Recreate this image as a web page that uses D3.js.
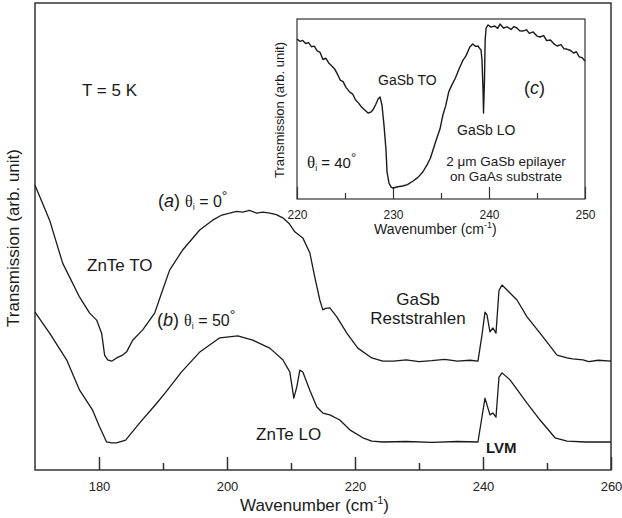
<!DOCTYPE html>
<html>
<head>
<meta charset="utf-8">
<script src="https://cdn.jsdelivr.net/npm/d3@7"></script>
<style>
  body { margin: 0; background: #fff; }
  svg { font-family: "Liberation Sans", Arial, sans-serif; }
  .tick text { fill: #222; }
</style>
</head>
<body>
<svg width="622" height="518"></svg>
<script>
// spectrum (a): theta_i = 0
const waveA = [170, 172.28, 174.32, 176.97, 178.54, 179.63, 180.41, 180.88, 181.35, 181.98, 182.76, 183.7, 184.32, 185.26, 186.83, 188.7, 189.78, 191.03, 193.07, 195.73, 197.76, 199.2, 200.42, 201.5, 202.46, 203.5, 204.65, 205.6, 206.68, 207.7, 208.72, 209.7, 210.59, 211.84, 212.94, 213.72, 214.5, 214.97, 215.4, 216.07, 217.16, 218.72, 220.44, 222.63, 224.35, 226, 228, 230, 232, 234, 236, 238, 239.21, 239.84, 240.31, 240.62, 241.09, 241.56, 242.03, 242.5, 242.97, 244.22, 245.31, 246.88, 248.91, 250, 251.56, 253.13, 254, 255.63, 256.5, 258, 260];
const transA = [61, 53.5, 44.3, 37, 33.6, 32.1, 29.3, 24.6, 23.6, 23.3, 24, 24.6, 25.3, 27.8, 30, 33.6, 37.9, 42.8, 47.1, 51.4, 53.5, 54.6, 55, 55.4, 55.2, 55.6, 55, 55.2, 55, 54.7, 54, 52.8, 51, 49.7, 46.5, 41.3, 36.4, 34.3, 34.6, 34.7, 32.8, 29.3, 26.1, 24, 23.3, 23.3, 23.6, 23.2, 23.4, 23.7, 23.3, 23.5, 23.3, 28.9, 33.8, 33.2, 29.6, 30.4, 29.3, 38.5, 39.6, 37.9, 36.4, 32.8, 29.3, 27.4, 24.6, 24, 23.8, 23.6, 23.2, 23.5, 23.3];

// spectrum (b): theta_i = 50
const waveB = [170, 172.28, 174.94, 176.97, 179, 180.1, 181.19, 181.98, 182.76, 184.16, 186.36, 189.02, 190.5, 192.9, 195.7, 198.87, 201.68, 204.03, 206.68, 208.72, 209.81, 210.44, 210.91, 211.38, 211.85, 212.94, 214.04, 214.97, 216.07, 217.63, 219.19, 221.22, 222.63, 224.35, 228, 232, 236, 239.21, 240.31, 241.09, 241.56, 242.03, 242.5, 242.97, 244.22, 246.88, 248.91, 251.25, 253.13, 256, 260];
const transB = [33.8, 29.3, 23.6, 17.1, 12.8, 9.2, 6, 5.8, 5.8, 6.4, 10.1, 14.3, 16.8, 21, 25.2, 28.3, 28.7, 27.8, 26.1, 23.6, 21, 15.4, 17.8, 21.4, 21, 17.1, 13.5, 12.2, 11.8, 10.7, 8.6, 6.9, 6.2, 6, 6.1, 5.9, 6.1, 6, 15.4, 11.8, 12.2, 11.3, 19.9, 20.8, 19.3, 14.3, 10.7, 6.9, 6.2, 6, 6];

// inset (c): 2 um GaSb epilayer, theta_i = 40
const waveC = [220, 220.3, 220.6, 220.9, 221.2, 221.5, 221.8, 222.1, 222.4, 222.7, 223, 223.3, 223.6, 223.9, 224.2, 224.5, 224.8, 225.1, 225.5, 225.8, 226.1, 226.4, 226.7, 227, 227.4, 227.7, 227.9, 228.2, 228.45, 228.65, 228.85, 229.06, 229.27, 229.38, 229.58, 229.8, 230, 230.5, 231, 231.5, 232.1, 232.6, 233.1, 233.5, 233.9, 234.5, 234.9, 235.2, 235.5, 235.8, 236.1, 236.5, 236.9, 237.3, 237.6, 238, 238.3, 238.6, 238.85, 239.05, 239.17, 239.27, 239.38, 239.43, 239.53, 239.6, 239.7, 239.9, 240.2, 240.6, 240.9, 241.15, 241.5, 241.9, 242.3, 242.6, 242.9, 243.2, 243.5, 243.9, 244.2, 244.6, 245, 245.3, 245.7, 246, 246.4, 246.8, 247.1, 247.5, 247.8, 248.1, 248.5, 248.8, 249.1, 249.4, 249.7, 250];
const transC = [88.9, 87.6, 88.1, 86.4, 86.9, 84.6, 84.9, 82.3, 81.5, 77.5, 78.2, 75.6, 74, 72.4, 69.5, 66.1, 65.2, 62, 59.4, 58.3, 55, 53.4, 51.2, 49.7, 47.8, 48.3, 49.4, 52.5, 55.6, 56.7, 52.2, 41.1, 27.2, 15, 8.9, 6.6, 6.1, 6.8, 7.2, 8, 10, 12, 15, 18.5, 22.8, 32.8, 39, 46.7, 52, 59.4, 63, 67.2, 72.5, 77.2, 79.5, 84.4, 86.1, 84.8, 85, 83.5, 82.8, 77.2, 60.6, 47.8, 66.1, 88.3, 95, 96.7, 95.5, 96.1, 94.8, 97.2, 95, 95.6, 94.2, 95.8, 95, 93.5, 93.3, 94, 92, 92.8, 90.5, 90, 90.8, 88, 88.3, 86, 85, 85.8, 83.5, 83.3, 82.5, 81.1, 81.8, 79, 78.5, 76.7];

const mainMajor = [180, 200, 220, 240, 260];
const mainMinor = [190, 210, 230, 250];
const insetMajor = [220, 230, 240, 250];
const insetMinor = [225, 235, 245];

window.onload = () => {
  const svg = d3.select("svg");
  const ink = "#1a1a1a";

  // main panel
  const x = d3.scaleLinear().domain([170, 260]).range([35, 611]);
  const y = d3.scaleLinear().domain([0, 100]).range([470, 3]);

  svg.append("rect")
    .attr("x", 35).attr("y", 3)
    .attr("width", 576).attr("height", 467)
    .attr("fill", "none").attr("stroke", "#333").attr("stroke-width", 1.5);

  const xAxisG = svg.append("g").attr("transform", "translate(0,470)");
  xAxisG.call(d3.axisBottom(x).tickValues(mainMajor).tickSizeInner(-13).tickSizeOuter(0).tickPadding(12));
  xAxisG.selectAll(".tick text").attr("font-size", 13).attr("font-family", "Liberation Sans, Arial, sans-serif");
  xAxisG.selectAll(".tick line").attr("stroke", "#333").attr("stroke-width", 1.5);
  xAxisG.select(".domain").remove();

  const xMinorG = svg.append("g").attr("transform", "translate(0,470)");
  xMinorG.call(d3.axisBottom(x).tickValues(mainMinor).tickSizeInner(-7).tickSizeOuter(0).tickFormat(""));
  xMinorG.selectAll(".tick line").attr("stroke", "#333").attr("stroke-width", 1.5);
  xMinorG.select(".domain").remove();

  const line = d3.line().x(d => x(d[0])).y(d => y(d[1]));
  const dataA = waveA.map((w, i) => [w, transA[i]]);
  const dataB = waveB.map((w, i) => [w, transB[i]]);

  [dataA, dataB].forEach(dd => {
    svg.append("path").datum(dd)
      .attr("d", line)
      .attr("fill", "none").attr("stroke", ink).attr("stroke-width", 1.3)
      .attr("stroke-linejoin", "round");
  });

  // axis titles
  const title = svg.append("text")
    .attr("x", 240).attr("y", 511)
    .attr("font-size", 17).attr("fill", ink);
  title.append("tspan").text("Wavenumber (cm");
  title.append("tspan").attr("font-size", 11).attr("dy", -7).text("-1");
  title.append("tspan").attr("dy", 7).text(")");

  svg.append("text")
    .attr("transform", "translate(19,238) rotate(-90)")
    .attr("text-anchor", "middle")
    .attr("font-size", 17).attr("fill", ink)
    .text("Transmission (arb. unit)");

  // annotations
  const label = (px, py, size) => svg.append("text").attr("x", px).attr("y", py)
    .attr("font-size", size).attr("fill", ink);

  label(82, 96, 17).text("T = 5 K");
  label(87, 271, 17).text("ZnTe TO");
  label(256, 440, 17).text("ZnTe LO");
  label(418, 305, 17).attr("text-anchor", "middle").text("GaSb");
  label(418, 324, 17).attr("text-anchor", "middle").text("Reststrahlen");
  label(486, 453, 15).attr("font-weight", "bold").text("LVM");

  const angle = (px, py, tag, deg) => {
    const t = label(px, py, 18);
    t.append("tspan").text("(");
    t.append("tspan").attr("font-style", "italic").text(tag);
    t.append("tspan").text(") ");
    t.append("tspan").attr("font-family", "Liberation Serif, serif").attr("font-size", 16).text("θ");
    t.append("tspan").attr("font-size", 9).attr("dy", 3).text("i");
    t.append("tspan").attr("dy", -3).attr("font-size", 16).text(" = " + deg);
    t.append("tspan").attr("font-size", 14).attr("dy", -6).text("°");
  };
  angle(158, 207, "a", "0");
  angle(157, 326, "b", "50");

  // inset panel
  const xi = d3.scaleLinear().domain([220, 250]).range([297, 585]);
  const yi = d3.scaleLinear().domain([0, 100]).range([199, 19]);

  svg.append("rect")
    .attr("x", 297).attr("y", 19)
    .attr("width", 288).attr("height", 180)
    .attr("fill", "#fff").attr("stroke", "#333").attr("stroke-width", 1.2);

  const xiG = svg.append("g").attr("transform", "translate(0,199)");
  xiG.call(d3.axisBottom(xi).tickValues(insetMajor).tickSizeInner(-12).tickSizeOuter(0).tickPadding(11));
  xiG.selectAll(".tick text").attr("font-size", 12).attr("font-family", "Liberation Sans, Arial, sans-serif");
  xiG.selectAll(".tick line").attr("stroke", "#333").attr("stroke-width", 1.2);
  xiG.select(".domain").remove();

  const xiMinorG = svg.append("g").attr("transform", "translate(0,199)");
  xiMinorG.call(d3.axisBottom(xi).tickValues(insetMinor).tickSizeInner(-6).tickSizeOuter(0).tickFormat(""));
  xiMinorG.selectAll(".tick line").attr("stroke", "#333").attr("stroke-width", 1.2);
  xiMinorG.select(".domain").remove();

  const lineC = d3.line().x(d => xi(d[0])).y(d => yi(d[1]));
  svg.append("path").datum(waveC.map((w, i) => [w, transC[i]]))
    .attr("d", lineC)
    .attr("fill", "none").attr("stroke", ink).attr("stroke-width", 1.4)
    .attr("stroke-linejoin", "round");

  const ititle = svg.append("text")
    .attr("x", 374).attr("y", 234)
    .attr("font-size", 14).attr("fill", ink);
  ititle.append("tspan").text("Wavenumber (cm");
  ititle.append("tspan").attr("font-size", 9).attr("dy", -6).text("-1");
  ititle.append("tspan").attr("dy", 6).text(")");

  svg.append("text")
    .attr("transform", "translate(284,110) rotate(-90)")
    .attr("text-anchor", "middle")
    .attr("font-size", 13).attr("fill", ink)
    .text("Transmission (arb. unit)");

  label(378, 85, 14).text("GaSb TO");
  label(457, 135, 14).text("GaSb LO");
  label(506, 166, 13.5).attr("text-anchor", "middle").text("2 μm GaSb epilayer");
  label(506, 181, 13.5).attr("text-anchor", "middle").text("on GaAs substrate");

  const c = label(524, 94, 18);
  c.append("tspan").text("(");
  c.append("tspan").attr("font-style", "italic").text("c");
  c.append("tspan").text(")");

  const th = label(307, 168, 15);
  th.append("tspan").attr("font-family", "Liberation Serif, serif").attr("font-size", 17).text("θ");
  th.append("tspan").attr("font-size", 9).attr("dy", 3).text("i");
  th.append("tspan").attr("dy", -3).text(" = 40");
  th.append("tspan").attr("font-size", 13).attr("dy", -6).text("°");
};
</script>
</body>
</html>
